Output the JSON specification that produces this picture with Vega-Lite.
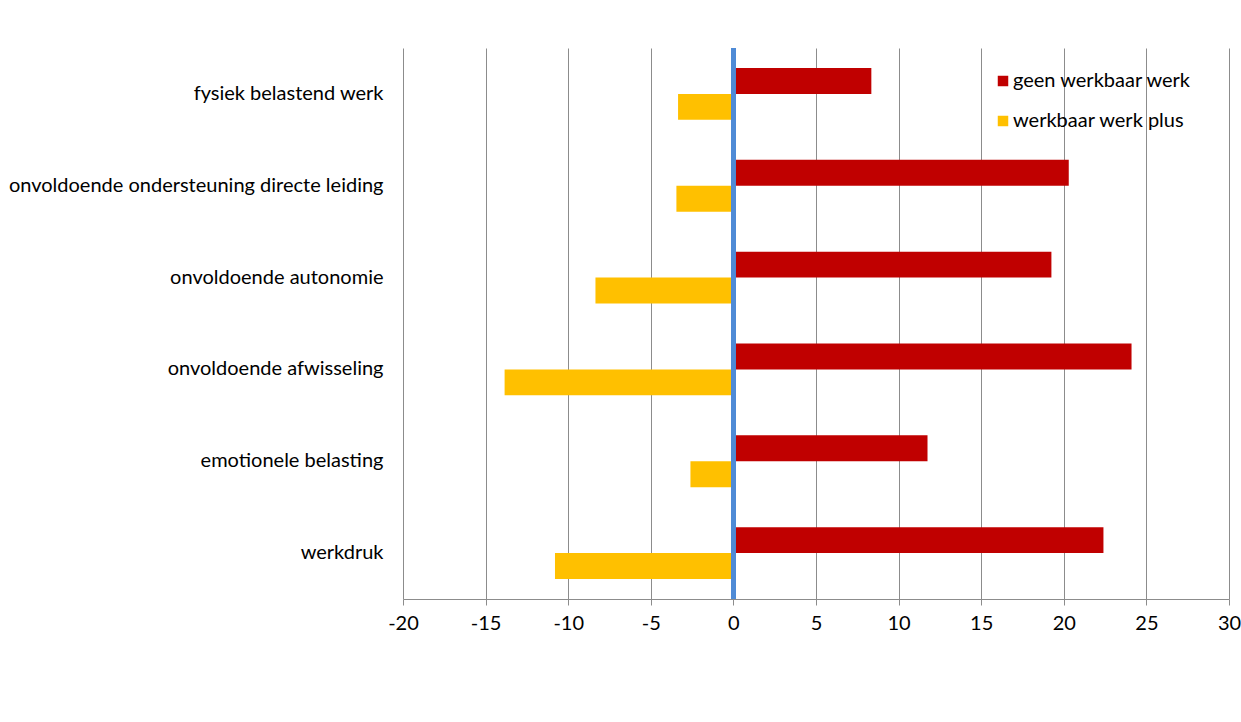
{
  "$schema": "https://vega.github.io/schema/vega-lite/v6.json",
  "width": 826,
  "height": 551,
  "autosize": "none",
  "padding": {"left": 403, "top": 48, "right": 12, "bottom": 123},
  "background": "white",
  "config": {
    "view": {"stroke": null},
    "font": "Lato",
    "axis": {"labelFont": "Lato", "labelColor": "#000000", "labelFontSize": 20, "titleFont": "Lato"},
    "legend": {"labelFont": "Lato"}
  },
  "data": {
    "values": [
      {"categorie": "fysiek belastend werk", "reeks": "geen werkbaar werk", "waarde": 8.35},
      {"categorie": "fysiek belastend werk", "reeks": "werkbaar werk plus", "waarde": -3.35},
      {"categorie": "onvoldoende ondersteuning directe leiding", "reeks": "geen werkbaar werk", "waarde": 20.3},
      {"categorie": "onvoldoende ondersteuning directe leiding", "reeks": "werkbaar werk plus", "waarde": -3.45},
      {"categorie": "onvoldoende autonomie", "reeks": "geen werkbaar werk", "waarde": 19.25},
      {"categorie": "onvoldoende autonomie", "reeks": "werkbaar werk plus", "waarde": -8.35},
      {"categorie": "onvoldoende afwisseling", "reeks": "geen werkbaar werk", "waarde": 24.1},
      {"categorie": "onvoldoende afwisseling", "reeks": "werkbaar werk plus", "waarde": -13.85},
      {"categorie": "emotionele belasting", "reeks": "geen werkbaar werk", "waarde": 11.75},
      {"categorie": "emotionele belasting", "reeks": "werkbaar werk plus", "waarde": -2.6},
      {"categorie": "werkdruk", "reeks": "geen werkbaar werk", "waarde": 22.4},
      {"categorie": "werkdruk", "reeks": "werkbaar werk plus", "waarde": -10.8}
    ]
  },
  "layer": [
    {
      "mark": {"type": "bar"},
      "encoding": {
        "y": {
          "field": "categorie",
          "type": "nominal",
          "sort": null,
          "scale": {"paddingInner": 0.435, "paddingOuter": 0.2175},
          "axis": {
            "title": null,
            "domain": false,
            "ticks": false,
            "grid": false,
            "labelPadding": 20,
            "labelLimit": 0
          }
        },
        "yOffset": {
          "field": "reeks",
          "type": "nominal",
          "scale": {"domain": ["geen werkbaar werk", "werkbaar werk plus"], "paddingInner": 0, "paddingOuter": 0}
        },
        "x": {
          "field": "waarde",
          "type": "quantitative",
          "scale": {"domain": [-20, 30], "nice": false, "zero": false},
          "axis": {
            "title": null,
            "values": [-20, -15, -10, -5, 0, 5, 10, 15, 20, 25, 30],
            "labelExpr": "'' + datum.value",
            "grid": true,
            "gridColor": "#8c8c8c",
            "gridWidth": 1,
            "domainColor": "#8c8c8c",
            "domainWidth": 1,
            "tickColor": "#8c8c8c",
            "tickSize": 6,
            "labelPadding": 8,
            "labelFlush": false
          }
        },
        "color": {
          "field": "reeks",
          "type": "nominal",
          "scale": {"domain": ["geen werkbaar werk", "werkbaar werk plus"], "range": ["#C00000", "#FFC000"]},
          "legend": {
            "title": null,
            "orient": "none",
            "legendX": 590,
            "legendY": 23,
            "symbolType": "square",
            "symbolSize": 110,
            "symbolStrokeWidth": 0,
            "labelFontSize": 20,
            "labelColor": "#000000",
            "labelLimit": 0,
            "rowPadding": 20,
            "labelOffset": 0
          }
        }
      }
    },
    {
      "mark": {"type": "rule", "color": "#4F8BD6", "strokeWidth": 4},
      "encoding": {"x": {"datum": 0}}
    }
  ]
}
